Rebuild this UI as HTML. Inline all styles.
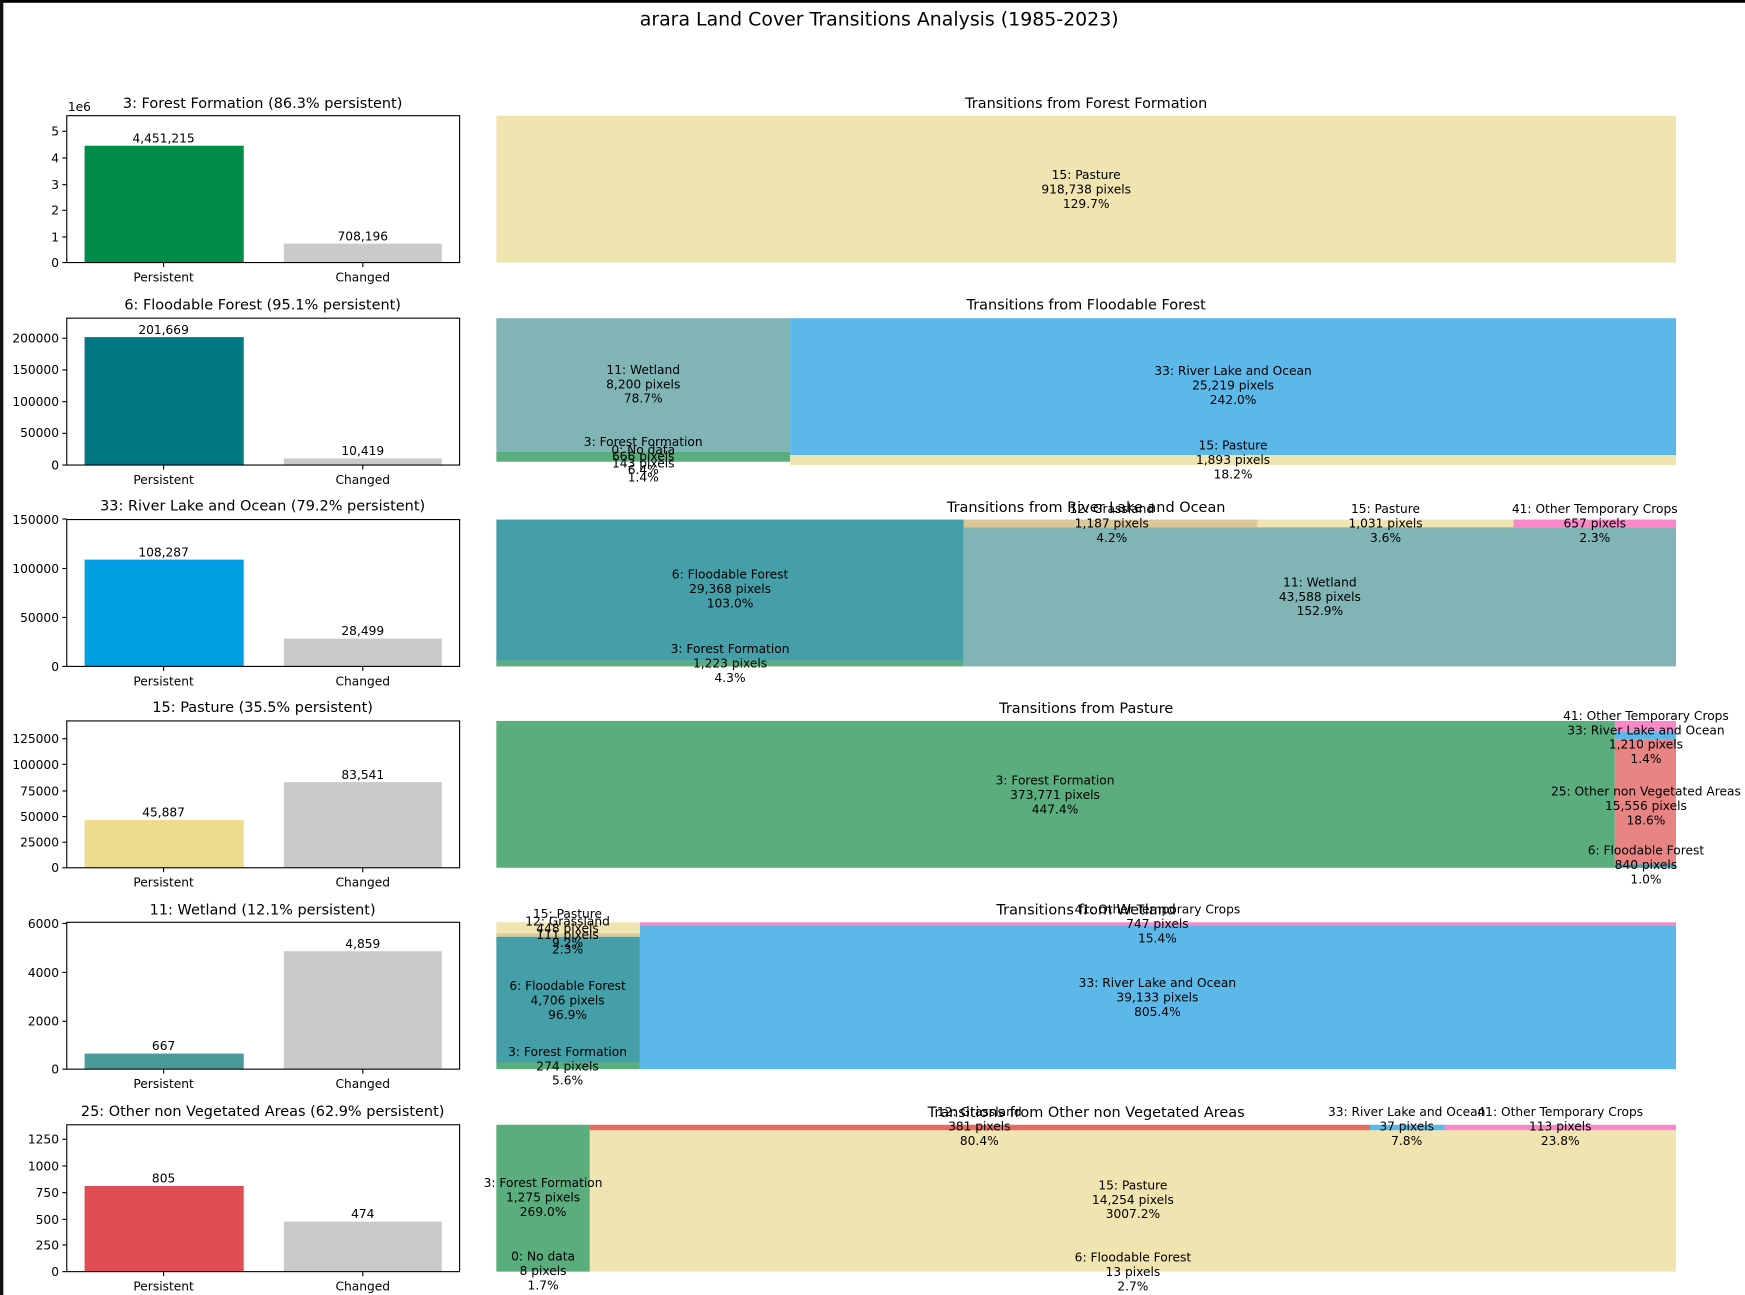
<!DOCTYPE html>
<html><head><meta charset="utf-8"><style>
html,body{margin:0;padding:0;background:#fff;}
svg{display:block;}
text{font-family:"DejaVu Sans","Liberation Sans",sans-serif;fill:#000;}
.t{font-size:11px;text-anchor:middle;}
.k{font-size:11px;text-anchor:end;}
.h{font-size:13px;text-anchor:middle;}
</style></head><body>
<svg width="1745" height="1295" viewBox="0 0 1568 1164" preserveAspectRatio="none" xmlns="http://www.w3.org/2000/svg">
<rect x="0" y="0" width="1568" height="1164" fill="#fff"/>
<rect x="0" y="0" width="1568" height="2.5" fill="#000"/>
<rect x="0" y="0" width="3" height="1164" fill="#111"/>
<text x="790" y="23" style="font-size:17px;text-anchor:middle">arara Land Cover Transitions Analysis (1985-2023)</text>

<!-- ROW 1 -->
<text class="h" x="236" y="97">3: Forest Formation (86.3% persistent)</text>
<text x="61" y="100" style="font-size:11px">1e6</text>
<rect x="76" y="131" width="143" height="105" fill="#008d47"/>
<rect x="255" y="219" width="142" height="17" fill="#cacaca"/>
<rect x="60" y="104" width="353" height="132" fill="none" stroke="#000" stroke-width="1"/>
<g stroke="#000"><line x1="56" y1="236" x2="60" y2="236"/><line x1="56" y1="213" x2="60" y2="213"/><line x1="56" y1="189" x2="60" y2="189"/><line x1="56" y1="166" x2="60" y2="166"/><line x1="56" y1="142" x2="60" y2="142"/><line x1="56" y1="118" x2="60" y2="118"/><line x1="147" y1="236" x2="147" y2="240"/><line x1="326" y1="236" x2="326" y2="240"/></g>
<text class="k" x="53" y="240">0</text><text class="k" x="53" y="217">1</text><text class="k" x="53" y="193">2</text><text class="k" x="53" y="170">3</text><text class="k" x="53" y="146">4</text><text class="k" x="53" y="122">5</text>
<text class="t" x="147" y="128">4,451,215</text><text class="t" x="326" y="216">708,196</text>
<text class="t" x="147" y="253">Persistent</text><text class="t" x="326" y="253">Changed</text>
<text class="h" x="976" y="97">Transitions from Forest Formation</text>
<rect x="446" y="104" width="1060" height="132" fill="#f0e4b0"/>
<text class="t" x="976" y="161">15: Pasture</text><text class="t" x="976" y="174">918,738 pixels</text><text class="t" x="976" y="187">129.7%</text>

<!-- ROW 2 -->
<text class="h" x="236" y="278">6: Floodable Forest (95.1% persistent)</text>
<rect x="76" y="303" width="143" height="115" fill="#027784"/>
<rect x="255" y="412" width="142" height="6" fill="#cacaca"/>
<rect x="60" y="286" width="353" height="132" fill="none" stroke="#000"/>
<g stroke="#000"><line x1="56" y1="418" x2="60" y2="418"/><line x1="56" y1="389.5" x2="60" y2="389.5"/><line x1="56" y1="361" x2="60" y2="361"/><line x1="56" y1="332.5" x2="60" y2="332.5"/><line x1="56" y1="304" x2="60" y2="304"/><line x1="147" y1="418" x2="147" y2="422"/><line x1="326" y1="418" x2="326" y2="422"/></g>
<text class="k" x="53" y="422">0</text><text class="k" x="53" y="393">50000</text><text class="k" x="53" y="365">100000</text><text class="k" x="53" y="336">150000</text><text class="k" x="53" y="308">200000</text>
<text class="t" x="147" y="300">201,669</text><text class="t" x="326" y="409">10,419</text>
<text class="t" x="147" y="435">Persistent</text><text class="t" x="326" y="435">Changed</text>
<text class="h" x="976" y="278">Transitions from Floodable Forest</text>
<rect x="446" y="286" width="264" height="120" fill="#81b4b4"/>
<rect x="446" y="406" width="264" height="9" fill="#5aad7d"/>
<rect x="710" y="286" width="796" height="123" fill="#5db8ea"/>
<rect x="710" y="409" width="796" height="9" fill="#f0e4b0"/>
<text class="t" x="578" y="336">11: Wetland</text><text class="t" x="578" y="349">8,200 pixels</text><text class="t" x="578" y="362">78.7%</text>
<text class="t" x="1108" y="337">33: River Lake and Ocean</text><text class="t" x="1108" y="350">25,219 pixels</text><text class="t" x="1108" y="363">242.0%</text>
<text class="t" x="578" y="401">3: Forest Formation</text><text class="t" x="578" y="408">0: No data</text><text class="t" x="578" y="414">666 pixels</text><text class="t" x="578" y="420">143 pixels</text><text class="t" x="578" y="426">6.4%</text><text class="t" x="578" y="433">1.4%</text>
<text class="t" x="1108" y="404">15: Pasture</text><text class="t" x="1108" y="417">1,893 pixels</text><text class="t" x="1108" y="430">18.2%</text>

<!-- ROW 3 -->
<text class="h" x="236" y="459">33: River Lake and Ocean (79.2% persistent)</text>
<rect x="76" y="503" width="143" height="96" fill="#009ee2"/>
<rect x="255" y="574" width="142" height="25" fill="#cacaca"/>
<rect x="60" y="467" width="353" height="132" fill="none" stroke="#000"/>
<g stroke="#000"><line x1="56" y1="599" x2="60" y2="599"/><line x1="56" y1="555" x2="60" y2="555"/><line x1="56" y1="511" x2="60" y2="511"/><line x1="56" y1="466.5" x2="60" y2="466.5"/><line x1="147" y1="599" x2="147" y2="603"/><line x1="326" y1="599" x2="326" y2="603"/></g>
<text class="k" x="53" y="603">0</text><text class="k" x="53" y="559">50000</text><text class="k" x="53" y="515">100000</text><text class="k" x="53" y="471">150000</text>
<text class="t" x="147" y="500">108,287</text><text class="t" x="326" y="571">28,499</text>
<text class="t" x="147" y="616">Persistent</text><text class="t" x="326" y="616">Changed</text>
<rect x="446" y="467" width="420" height="127" fill="#459fa8"/>
<rect x="446" y="594" width="420" height="5" fill="#5aad7d"/>
<rect x="866" y="467" width="264" height="7" fill="#dcc896"/>
<rect x="1130" y="467" width="230" height="7" fill="#f0e4b0"/>
<rect x="1360" y="467" width="146" height="7" fill="#f888c8"/>
<rect x="866" y="474" width="640" height="125" fill="#81b4b4"/>
<text class="h" x="976" y="460">Transitions from River Lake and Ocean</text>
<text class="t" x="999" y="461">12: Grassland</text><text class="t" x="999" y="474">1,187 pixels</text><text class="t" x="999" y="487">4.2%</text>
<text class="t" x="1245" y="461">15: Pasture</text><text class="t" x="1245" y="474">1,031 pixels</text><text class="t" x="1245" y="487">3.6%</text>
<text class="t" x="1433" y="461">41: Other Temporary Crops</text><text class="t" x="1433" y="474">657 pixels</text><text class="t" x="1433" y="487">2.3%</text>
<text class="t" x="656" y="520">6: Floodable Forest</text><text class="t" x="656" y="533">29,368 pixels</text><text class="t" x="656" y="546">103.0%</text>
<text class="t" x="1186" y="527">11: Wetland</text><text class="t" x="1186" y="540">43,588 pixels</text><text class="t" x="1186" y="553">152.9%</text>
<text class="t" x="656" y="587">3: Forest Formation</text><text class="t" x="656" y="600">1,223 pixels</text><text class="t" x="656" y="613">4.3%</text>

<!-- ROW 4 -->
<text class="h" x="236" y="640">15: Pasture (35.5% persistent)</text>
<rect x="76" y="737" width="143" height="43" fill="#eddc8e"/>
<rect x="255" y="703" width="142" height="77" fill="#cacaca"/>
<rect x="60" y="648" width="353" height="132" fill="none" stroke="#000"/>
<g stroke="#000"><line x1="56" y1="780" x2="60" y2="780"/><line x1="56" y1="757" x2="60" y2="757"/><line x1="56" y1="734" x2="60" y2="734"/><line x1="56" y1="711" x2="60" y2="711"/><line x1="56" y1="687" x2="60" y2="687"/><line x1="56" y1="664" x2="60" y2="664"/><line x1="147" y1="780" x2="147" y2="784"/><line x1="326" y1="780" x2="326" y2="784"/></g>
<text class="k" x="53" y="784">0</text><text class="k" x="53" y="761">25000</text><text class="k" x="53" y="738">50000</text><text class="k" x="53" y="715">75000</text><text class="k" x="53" y="691">100000</text><text class="k" x="53" y="668">125000</text>
<text class="t" x="147" y="734">45,887</text><text class="t" x="326" y="700">83,541</text>
<text class="t" x="147" y="797">Persistent</text><text class="t" x="326" y="797">Changed</text>
<text class="h" x="976" y="641">Transitions from Pasture</text>
<rect x="446" y="648" width="1005" height="132" fill="#5aad7d"/>
<rect x="1451" y="648" width="55" height="10" fill="#f888c8"/>
<rect x="1451" y="658" width="55" height="7" fill="#5db8ea"/>
<rect x="1451" y="665" width="55" height="112" fill="#e88484"/>
<rect x="1451" y="777" width="55" height="3" fill="#459fa8"/>
<text class="t" x="948" y="705">3: Forest Formation</text><text class="t" x="948" y="718">373,771 pixels</text><text class="t" x="948" y="731">447.4%</text>
<text class="t" x="1479" y="647">41: Other Temporary Crops</text><text class="t" x="1479" y="660">33: River Lake and Ocean</text><text class="t" x="1479" y="673">1,210 pixels</text><text class="t" x="1479" y="686">1.4%</text>
<text class="t" x="1479" y="715">25: Other non Vegetated Areas</text><text class="t" x="1479" y="728">15,556 pixels</text><text class="t" x="1479" y="741">18.6%</text>
<text class="t" x="1479" y="768">6: Floodable Forest</text><text class="t" x="1479" y="781">840 pixels</text><text class="t" x="1479" y="794">1.0%</text>

<!-- ROW 5 -->
<text class="h" x="236" y="822">11: Wetland (12.1% persistent)</text>
<rect x="76" y="947" width="143" height="14" fill="#4b9a9a"/>
<rect x="255" y="855" width="142" height="106" fill="#cacaca"/>
<rect x="60" y="829" width="353" height="132" fill="none" stroke="#000"/>
<g stroke="#000"><line x1="56" y1="961" x2="60" y2="961"/><line x1="56" y1="918" x2="60" y2="918"/><line x1="56" y1="874" x2="60" y2="874"/><line x1="56" y1="830" x2="60" y2="830"/><line x1="147" y1="961" x2="147" y2="965"/><line x1="326" y1="961" x2="326" y2="965"/></g>
<text class="k" x="53" y="965">0</text><text class="k" x="53" y="922">2000</text><text class="k" x="53" y="878">4000</text><text class="k" x="53" y="834">6000</text>
<text class="t" x="147" y="944">667</text><text class="t" x="326" y="852">4,859</text>
<text class="t" x="147" y="978">Persistent</text><text class="t" x="326" y="978">Changed</text>
<rect x="446" y="829" width="129" height="10" fill="#f0e4b0"/>
<rect x="446" y="839" width="129" height="3" fill="#dcc896"/>
<rect x="446" y="842" width="129" height="113" fill="#459fa8"/>
<rect x="446" y="955" width="129" height="6" fill="#5aad7d"/>
<rect x="575" y="829" width="931" height="3" fill="#f888c8"/>
<rect x="575" y="832" width="931" height="129" fill="#5db8ea"/>
<text class="h" x="976" y="822">Transitions from Wetland</text>
<text class="t" x="1040" y="821">41: Other Temporary Crops</text><text class="t" x="1040" y="834">747 pixels</text><text class="t" x="1040" y="847">15.4%</text>
<text class="t" x="510" y="825">15: Pasture</text><text class="t" x="510" y="832">12: Grassland</text><text class="t" x="510" y="838">448 pixels</text><text class="t" x="510" y="844">111 pixels</text><text class="t" x="510" y="851">9.2%</text><text class="t" x="510" y="857">2.3%</text>
<text class="t" x="510" y="890">6: Floodable Forest</text><text class="t" x="510" y="903">4,706 pixels</text><text class="t" x="510" y="916">96.9%</text>
<text class="t" x="1040" y="887">33: River Lake and Ocean</text><text class="t" x="1040" y="900">39,133 pixels</text><text class="t" x="1040" y="913">805.4%</text>
<text class="t" x="510" y="949">3: Forest Formation</text><text class="t" x="510" y="962">274 pixels</text><text class="t" x="510" y="975">5.6%</text>

<!-- ROW 6 -->
<text class="h" x="236" y="1003">25: Other non Vegetated Areas (62.9% persistent)</text>
<rect x="76" y="1066" width="143" height="77" fill="#e04e54"/>
<rect x="255" y="1098" width="142" height="45" fill="#cacaca"/>
<rect x="60" y="1011" width="353" height="132" fill="none" stroke="#000"/>
<g stroke="#000"><line x1="56" y1="1143" x2="60" y2="1143"/><line x1="56" y1="1119" x2="60" y2="1119"/><line x1="56" y1="1096" x2="60" y2="1096"/><line x1="56" y1="1072" x2="60" y2="1072"/><line x1="56" y1="1048" x2="60" y2="1048"/><line x1="56" y1="1024" x2="60" y2="1024"/><line x1="147" y1="1143" x2="147" y2="1147"/><line x1="326" y1="1143" x2="326" y2="1147"/></g>
<text class="k" x="53" y="1147">0</text><text class="k" x="53" y="1123">250</text><text class="k" x="53" y="1100">500</text><text class="k" x="53" y="1076">750</text><text class="k" x="53" y="1052">1000</text><text class="k" x="53" y="1028">1250</text>
<text class="t" x="147" y="1063">805</text><text class="t" x="326" y="1095">474</text>
<text class="t" x="147" y="1160">Persistent</text><text class="t" x="326" y="1160">Changed</text>
<rect x="446" y="1011" width="84" height="132" fill="#5aad7d"/>
<rect x="530" y="1011" width="701" height="5" fill="#e66a5e"/>
<rect x="1231" y="1011" width="67" height="5" fill="#5db8ea"/>
<rect x="1298" y="1011" width="208" height="5" fill="#f888c8"/>
<rect x="530" y="1016" width="976" height="127" fill="#f0e4b0"/>
<text class="h" x="976" y="1004">Transitions from Other non Vegetated Areas</text>
<text class="t" x="880" y="1003">12: Grassland</text><text class="t" x="880" y="1016">381 pixels</text><text class="t" x="880" y="1029">80.4%</text>
<text class="t" x="1264" y="1003">33: River Lake and Ocean</text><text class="t" x="1264" y="1016">37 pixels</text><text class="t" x="1264" y="1029">7.8%</text>
<text class="t" x="1402" y="1003">41: Other Temporary Crops</text><text class="t" x="1402" y="1016">113 pixels</text><text class="t" x="1402" y="1029">23.8%</text>
<text class="t" x="488" y="1067">3: Forest Formation</text><text class="t" x="488" y="1080">1,275 pixels</text><text class="t" x="488" y="1093">269.0%</text>
<text class="t" x="1018" y="1069">15: Pasture</text><text class="t" x="1018" y="1082">14,254 pixels</text><text class="t" x="1018" y="1095">3007.2%</text>
<text class="t" x="488" y="1133">0: No data</text><text class="t" x="488" y="1146">8 pixels</text><text class="t" x="488" y="1159">1.7%</text>
<text class="t" x="1018" y="1134">6: Floodable Forest</text><text class="t" x="1018" y="1147">13 pixels</text><text class="t" x="1018" y="1160">2.7%</text>
</svg>
</body></html>
